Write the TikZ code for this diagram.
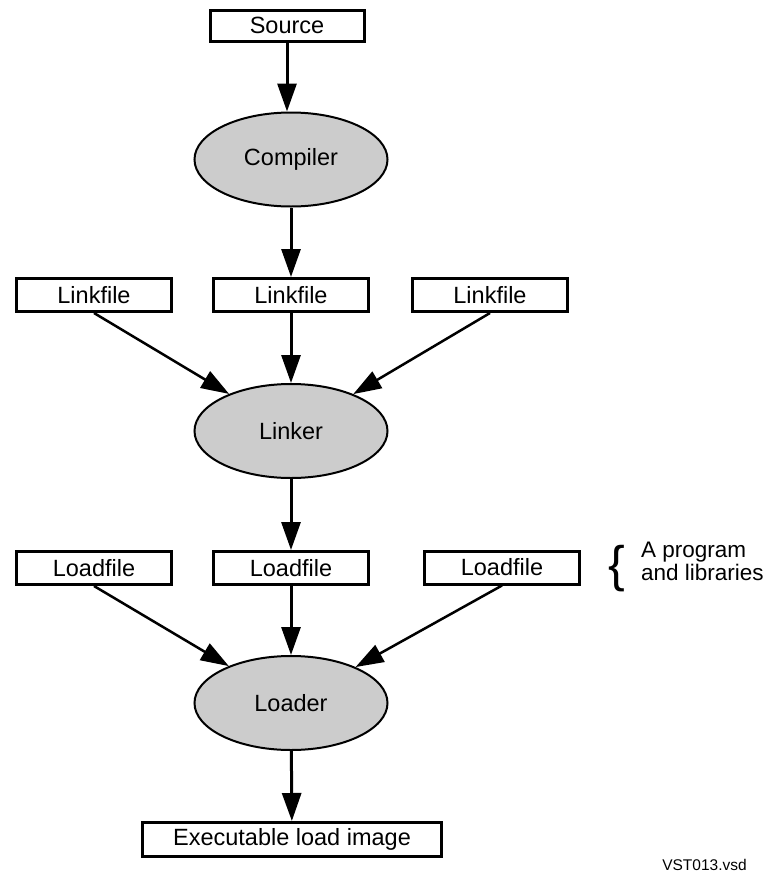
\documentclass[tikz,border=0pt]{standalone}
\usepackage{fontspec}
\setmainfont{Liberation Sans}
\usetikzlibrary{arrows.meta,shapes.geometric}
\definecolor{toolgray}{HTML}{CCCCCC}

\begin{document}
\begin{tikzpicture}[x=1pt,y=-1pt,
  lbl/.style={font=\fontsize{23.5}{27}\selectfont},
  filebox/.style={lbl, draw, line width=3pt, minimum width=155pt,
    minimum height=33pt, inner sep=0pt},
  tool/.style={lbl, ellipse, draw, line width=2pt, fill=toolgray,
    minimum width=193pt, minimum height=94pt, inner sep=0pt},
  flow/.style={line width=3pt, -{Triangle[length=28pt,width=19pt]}},
  slant/.style={line width=2.5pt, -{Triangle[length=28pt,width=19pt]}},
]
\useasboundingbox (0,0) rectangle (772,873);

% compile stage
\node[filebox, minimum width=154pt, minimum height=31pt] (source) at (287,25.5) {Source};
\node[tool] (compiler) at (291,159.5) {Compiler};

% link stage
\node[filebox] (lf1) at (94,295) {Linkfile};
\node[filebox] (lf2) at (291,295) {Linkfile};
\node[filebox] (lf3) at (490,295) {Linkfile};
\node[tool] (linker) at (291,431) {Linker};

% load stage
\node[filebox] (ld1) at (94,568) {Loadfile};
\node[filebox] (ld2) at (291,568) {Loadfile};
\node[filebox] (ld3) at (502,567.5) {Loadfile};
\node[tool] (loader) at (291,703) {Loader};

\node[filebox, minimum width=299pt, minimum height=34pt] (exe) at (292,839.5) {Executable load image};

% annotation for the load files
\node[inner sep=0pt, font=\fontsize{50}{50}\selectfont] (brace) at (616.5,569) {\{};
\node[lbl, anchor=base west, inner sep=0pt, font=\fontsize{22.5}{26}\selectfont] (note1) at (641,557) {A program};
\node[lbl, anchor=base west, inner sep=0pt, font=\fontsize{22.5}{26}\selectfont] (note2) at (641,580) {and libraries};

\node[anchor=base, inner sep=0pt, font=\fontsize{15.5}{18}\selectfont] (tag) at (704.5,870) {VST013.vsd};

% connectors
\draw[flow] (source.south) -- (source.south |- compiler.north);
\draw[flow] (compiler) -- (lf2);
\draw[slant] (lf1.south) -- (linker);
\draw[flow] (lf2) -- (linker);
\draw[slant] (lf3.south) -- (linker);
\draw[flow] (linker) -- (ld2);
\draw[slant] (ld1.south) -- (loader);
\draw[flow] (ld2) -- (loader);
\draw[slant] (ld3.south) -- (loader);
\draw[flow] (loader) -- (exe);
\end{tikzpicture}
\end{document}
